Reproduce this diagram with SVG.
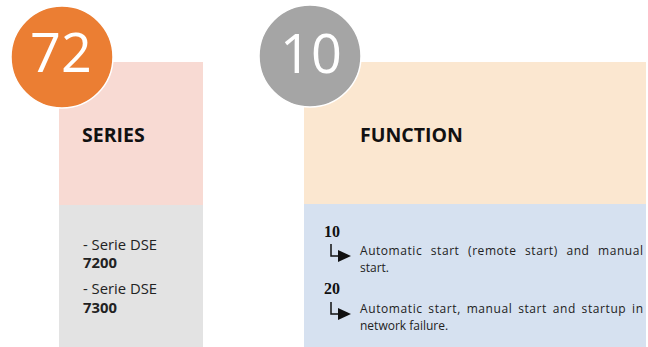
<svg xmlns="http://www.w3.org/2000/svg" width="648" height="347" viewBox="0 0 648 347">
  <style>
    .badge-num { font-family: "Open Sans", "Liberation Sans", sans-serif; font-size: 54px; fill: #ffffff; text-anchor: middle; }
    .heading { font-family: "Open Sans", "Liberation Sans", sans-serif; font-size: 19.5px; font-weight: bold; fill: #111111; }
    .body { font-family: "Open Sans", "Liberation Sans", sans-serif; font-size: 14.8px; fill: #222222; }
    .body-b { font-family: "Open Sans", "Liberation Sans", sans-serif; font-size: 14.8px; font-weight: bold; fill: #222222; }
    .desc { font-family: "Open Sans", "Liberation Sans", sans-serif; font-size: 12px; fill: #222222; }
    .code { font-family: "Liberation Serif", "Times New Roman", serif; font-size: 16px; font-weight: bold; fill: #111111; }
    .elbow { fill: none; stroke: #111111; stroke-width: 1.5; }
  </style>
  <defs>
    <marker id="tri" markerWidth="13" markerHeight="12" refX="0" refY="6" orient="auto" markerUnits="userSpaceOnUse">
      <path d="M0,0 L13,6 L0,12 Z" fill="#111111"/>
    </marker>
  </defs>
  <rect width="648" height="347" fill="#ffffff"/>

  <!-- Series column -->
  <g id="series">
    <rect x="59" y="62" width="144" height="143" fill="#F8DAD3"/>
    <rect x="59" y="205" width="144" height="142" fill="#E3E3E3"/>
    <text class="heading" x="82" y="142">SERIES</text>
    <text class="body" x="83" y="250">- Serie DSE</text>
    <text class="body-b" x="83" y="268">7200</text>
    <text class="body" x="83" y="294">- Serie DSE</text>
    <text class="body-b" x="83" y="313">7300</text>
  </g>
  <g id="badge-72">
    <circle cx="62" cy="57" r="51" fill="#EB7E33" stroke="#ffffff" stroke-width="1.5"/>
    <text class="badge-num" x="61" y="72">72</text>
  </g>

  <!-- Function column -->
  <g id="function">
    <rect x="304" y="62" width="342" height="142" fill="#FBE7D0"/>
    <rect x="304" y="204" width="342" height="143" fill="#D6E1F0"/>
    <text class="heading" x="360" y="142">FUNCTION</text>
    <text class="code" x="324" y="237">10</text>
    <text class="desc" x="360" y="255" textLength="283" lengthAdjust="spacing" word-spacing="5">Automatic start (remote start) and manual</text>
    <text class="desc" x="360" y="271.5">start.</text>
    <text class="code" x="324" y="294">20</text>
    <text class="desc" x="360" y="313" textLength="283" lengthAdjust="spacing" word-spacing="2">Automatic start, manual start and startup in</text>
    <text class="desc" x="360" y="329.5">network failure.</text>
  </g>
  <g id="badge-10">
    <circle cx="310" cy="56" r="51" fill="#A5A5A5" stroke="#ffffff" stroke-width="1.5"/>
    <text class="badge-num" x="311" y="73">10</text>
  </g>

  <!-- Elbow arrows from codes to descriptions -->
  <g id="connectors">
    <path class="elbow" d="M331,244 V256 H338" marker-end="url(#tri)"/>
    <path class="elbow" d="M331,302 V314 H338" marker-end="url(#tri)"/>
  </g>
</svg>
